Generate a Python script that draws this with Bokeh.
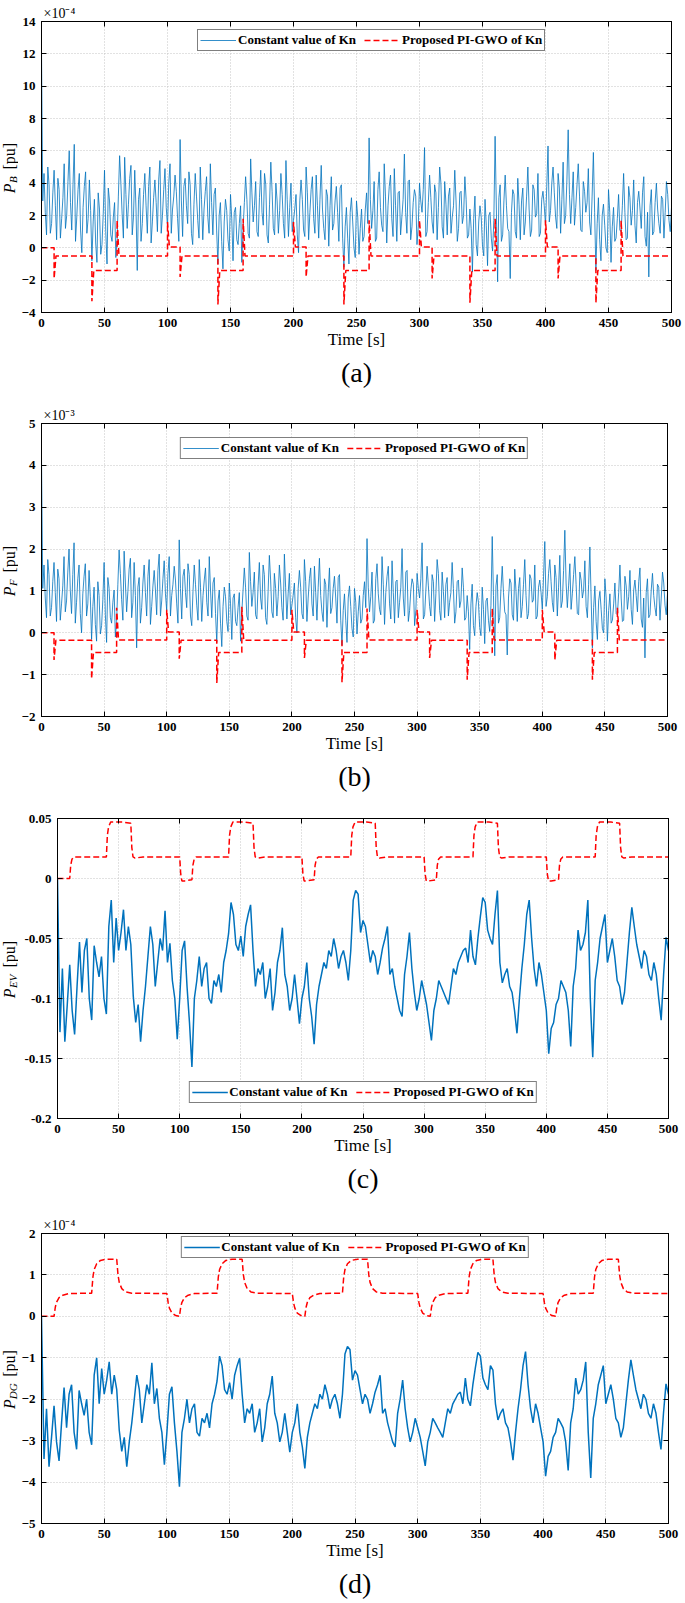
import math
from bokeh.plotting import figure
from bokeh.models import (Range1d, FixedTicker, LinearAxis, Legend, LegendItem,
                          Title, CustomJSTickFormatter)
from bokeh.core.properties import value
from bokeh.layouts import column, row
from bokeh.embed import file_html
from bokeh.resources import INLINE

# ---------------- data ----------------
x_ticks = [0, 50, 100, 150, 200, 250, 300, 350, 400, 450, 500]
t_1s = list(range(0, 501))                  # 1-s samples, panels (a) and (b)
t_2s = list(range(0, 501, 2))               # 2-s samples, panels (c) and (d)

# (a) P_B, constant Kn [x1e-4 pu] -- values at even seconds 0..500
pb_const_even = [
    12.2, 4.6, 0.8, 3.9, 1.5, 4.8, 0.5, 3.6, 1.8, 5.2,
    2.0, 6.0, 1.1, 6.4, 1.9, 4.6, -0.3, 3.8, 0.9, 4.2,
    -0.8, 3.0, -0.9, 2.4, 0.2, 4.8, -1.0, 2.9, 0.4, 2.8,
    0.5, 5.7, 2.1, 5.6, 1.2, 4.3, 0.8, 4.8, -1.4, 3.7,
    1.5, 4.6, 0.9, 5.0, 1.6, 4.2, 1.0, 5.4, 2.0, 4.9,
    1.3, 5.2, 2.4, 4.5, 1.8, 6.7, 0.7, 4.3, 1.5, 3.9,
    0.2, 4.6, 1.7, 5.0, 0.5, 3.5, 1.9, 5.2, 0.8, 3.7,
    -1.0, 2.8, -1.3, 3.0, 0.5, 3.3, -0.8, 2.5, 0.2, 2.6,
    1.2, 4.4, 0.9, 5.5, 1.6, 4.1, 0.7, 4.8, 1.4, 3.9,
    0.3, 5.3, 1.2, 4.0, 0.9, 4.6, 1.5, 5.4, 0.7, 4.0,
    1.7, 3.3, -0.3, 4.2, 1.1, 5.0, 0.5, 3.6, 1.8, 4.5,
    0.6, 5.1, 1.2, 3.6, 0.1, 4.4, 1.5, 3.8, 0.4, 3.9,
    -1.2, 2.5, -1.0, 3.1, 0.0, 2.9, -0.4, 2.4, 0.7, 3.4,
    6.8, 1.2, 4.1, 0.6, 4.7, 1.4, 5.2, 0.3, 3.8, 1.8,
    4.9, 0.4, 3.5, 1.9, 5.8, 0.9, 4.2, 1.3, 3.6, 0.2,
    4.0, 2.2, 6.2, 1.0, 4.5, 1.6, 3.9, 0.5, 5.0, 1.3,
    4.1, 0.8, 3.7, 1.9, 4.8, 0.4, 3.4, 1.5, 4.4, 0.6,
    2.4, -1.5, 3.2, -0.5, 2.6, 0.1, 3.0, -1.1, 2.2, -0.2,
    6.9, -2.1, 3.9, 0.8, 4.5, 1.2, -1.9, 3.6, 1.0, 4.3,
    0.5, 3.7, 1.6, 5.0, 0.7, 3.9, 1.9, 4.6, 0.9, 3.5,
    1.4, 6.3, 2.3, 5.0, 1.9, 4.6, 0.9, 5.3, 2.0, 7.3,
    1.5, 4.7, 2.5, 5.2, 1.1, 4.1, 2.2, 4.9, 0.8, 5.9,
    -1.4, 3.1, -0.8, 2.7, 0.0, 3.6, -0.9, 2.5, 0.6, 3.3,
    1.0, 4.6, 0.5, 3.8, 1.4, 4.2, 0.3, 3.5, 1.2, 4.4,
    0.1, -1.8, 3.6, 1.0, 4.0, 1.5, 3.2, 0.6, 4.1, 1.7,
    2.5]
# (a) values at odd seconds 1..499
pb_const_odd = [
    2.9, 2.2, 5.0, 0.9, 3.4, 2.6, 4.3, 0.6, 3.1, 1.2,
    4.1, 2.8, 3.9, 0.4, 3.6, 1.1, 2.5, 4.7, 1.8, 2.3,
    1.6, 0.3, 3.4, -0.4, 2.1, 1.0, 3.7, 0.8, 1.9, -0.6,
    3.2, 4.0, 0.6, 3.3, 2.7, 5.1, 1.9, 2.4, 3.0, 0.4,
    3.3, 2.6, 3.8, 0.3, 3.1, 2.8, 4.2, 0.9, 3.6, 2.5,
    4.0, 0.9, 3.2, 3.5, 0.4, 2.9, 3.8, 2.6, 4.7, 0.9,
    2.7, 3.2, 0.6, 3.0, 2.4, 4.4, 0.9, 2.8, 3.3, 1.1,
    2.0, 0.4, 1.6, 2.3, -0.2, 1.8, 2.2, 0.5, 1.5, -0.9,
    2.8, 3.0, 0.6, 3.4, 2.6, 1.0, 3.1, 2.2, 4.6, 0.8,
    2.7, 3.5, 0.8, 2.9, 2.3, 3.3, 0.6, 3.0, 2.5, 1.0,
    2.4, 0.8, 2.9, 3.0, 0.7, 3.4, 2.2, 4.4, 0.9, 2.6,
    3.0, 2.4, 0.5, 3.2, 2.6, 1.1, 2.9, 2.2, 3.7, 0.6,
    1.3, 0.6, 2.2, 1.6, -0.6, 1.9, 1.2, 0.4, 2.4, 1.5,
    3.0, 2.3, 0.4, 3.6, 2.5, 1.0, 3.2, 2.6, 4.5, 0.7,
    2.6, 3.4, 0.8, 3.0, 2.2, 4.1, 0.5, 2.8, 3.2, 1.3,
    2.9, 3.6, 0.7, 2.8, 3.1, 0.9, 3.4, 2.5, 4.0, 0.6,
    2.7, 3.2, 0.9, 2.6, 2.9, 1.2, 3.5, 2.0, 3.0, 0.8,
    1.2, 1.8, 0.2, 1.6, 1.9, -0.5, 1.4, 2.0, 0.6, 1.7,
    2.4, 3.1, 0.4, 2.9, 2.6, 1.0, 2.2, 3.3, 0.6, 2.7,
    2.9, 0.8, 3.2, 2.4, 1.1, 3.6, 2.1, 0.7, 3.0, 2.6,
    3.8, 1.6, 4.0, 3.4, 1.2, 3.7, 3.0, 1.5, 4.2, 3.3,
    3.1, 1.4, 3.9, 3.2, 1.0, 3.5, 2.8, 1.6, 3.2, 2.2,
    1.5, 0.5, 2.0, 1.4, -0.3, 2.2, 1.3, 0.4, 1.8, 1.1,
    2.6, 2.2, 0.6, 3.1, 2.3, 1.4, 2.8, 2.4, 3.4, 0.7,
    2.2, 2.6, 0.8, 2.8, 2.4, 0.9, 3.0, 2.2, 3.3, 1.0]

# (b) P_F, constant Kn [x1e-3 pu] -- even seconds 0..500
pf_const_even = [
    4.2, 1.62, 0.36, 1.39, 0.6, 1.68, 0.27, 1.29, 0.69, 1.82,
    0.76, 2.0, 0.46, 2.15, 0.73, 1.62, 0.0, 1.35, 0.4, 1.49,
    -0.16, 1.09, -0.2, 0.89, 0.17, 1.68, -0.23, 1.06, 0.23, 1.02,
    0.27, 1.98, 0.79, 1.95, 0.5, 1.52, 0.36, 1.68, -0.36, 1.32,
    0.6, 1.62, 0.4, 1.75, 0.63, 1.49, 0.43, 1.88, 0.76, 1.72,
    0.53, 1.82, 0.89, 1.59, 0.69, 2.22, 0.33, 1.52, 0.6, 1.39,
    0.17, 1.62, 0.66, 1.75, 0.27, 1.26, 0.73, 1.82, 0.36, 1.32,
    -0.23, 1.02, -0.33, 1.09, 0.27, 1.19, -0.16, 0.93, 0.17, 0.96,
    0.5, 1.55, 0.4, 1.92, 0.63, 1.45, 0.33, 1.68, 0.56, 1.39,
    0.2, 1.85, 0.5, 1.42, 0.4, 1.62, 0.6, 1.88, 0.33, 1.42,
    0.66, 1.19, 0.0, 1.49, 0.46, 1.75, 0.27, 1.29, 0.69, 1.59,
    0.3, 1.78, 0.5, 1.29, 0.13, 1.55, 0.6, 1.35, 0.23, 1.39,
    -0.3, 0.93, -0.23, 1.12, 0.1, 1.06, -0.03, 0.89, 0.33, 1.22,
    2.25, 0.5, 1.45, 0.3, 1.65, 0.56, 1.82, 0.2, 1.35, 0.69,
    1.72, 0.23, 1.26, 0.73, 2.01, 0.4, 1.49, 0.53, 1.29, 0.17,
    1.42, 0.83, 2.15, 0.43, 1.59, 0.63, 1.39, 0.27, 1.75, 0.53,
    1.45, 0.36, 1.32, 0.73, 1.68, 0.23, 1.22, 0.6, 1.55, 0.3,
    0.89, -0.4, 1.16, -0.07, 0.96, 0.13, 1.09, -0.26, 0.83, 0.03,
    2.3, -0.55, 1.39, 0.36, 1.59, 0.5, -0.53, 1.29, 0.43, 1.52,
    0.27, 1.32, 0.63, 1.75, 0.33, 1.39, 0.73, 1.62, 0.4, 1.26,
    0.56, 2.18, 0.86, 1.75, 0.73, 1.62, 0.4, 1.85, 0.76, 2.45,
    0.6, 1.65, 0.93, 1.82, 0.46, 1.45, 0.83, 1.72, 0.36, 2.05,
    -0.36, 1.12, -0.16, 0.99, 0.1, 1.29, -0.2, 0.93, 0.3, 1.19,
    0.43, 1.62, 0.27, 1.35, 0.56, 1.49, 0.2, 1.26, 0.5, 1.55,
    0.13, -0.6, 1.29, 0.43, 1.42, 0.6, 1.16, 0.3, 1.45, 0.66,
    0.93]
# (b) odd seconds 1..499
pf_const_odd = [
    1.06, 0.83, 1.75, 0.4, 1.22, 0.96, 1.52, 0.3, 1.12, 0.5,
    1.45, 1.02, 1.39, 0.23, 1.29, 0.46, 0.93, 1.65, 0.69, 0.86,
    0.63, 0.2, 1.22, -0.03, 0.79, 0.43, 1.32, 0.36, 0.73, -0.1,
    1.16, 1.42, 0.3, 1.19, 0.99, 1.78, 0.73, 0.89, 1.09, 0.23,
    1.19, 0.96, 1.35, 0.2, 1.12, 1.02, 1.49, 0.4, 1.29, 0.93,
    1.42, 0.4, 1.16, 1.26, 0.23, 1.06, 1.35, 0.96, 1.65, 0.4,
    0.99, 1.16, 0.3, 1.09, 0.89, 1.55, 0.4, 1.02, 1.19, 0.46,
    0.76, 0.23, 0.63, 0.86, 0.03, 0.69, 0.83, 0.27, 0.6, -0.2,
    1.02, 1.09, 0.3, 1.22, 0.96, 0.43, 1.12, 0.83, 1.62, 0.36,
    0.99, 1.26, 0.36, 1.06, 0.86, 1.19, 0.3, 1.09, 0.93, 0.43,
    0.89, 0.36, 1.06, 1.09, 0.33, 1.22, 0.83, 1.55, 0.4, 0.96,
    1.09, 0.89, 0.27, 1.16, 0.96, 0.46, 1.06, 0.83, 1.32, 0.3,
    0.53, 0.3, 0.83, 0.63, -0.1, 0.73, 0.5, 0.23, 0.89, 0.6,
    1.09, 0.86, 0.23, 1.29, 0.93, 0.43, 1.16, 0.96, 1.59, 0.33,
    0.96, 1.22, 0.36, 1.09, 0.83, 1.45, 0.27, 1.02, 1.16, 0.53,
    1.06, 1.29, 0.33, 1.02, 1.12, 0.4, 1.22, 0.93, 1.42, 0.3,
    0.99, 1.16, 0.4, 0.96, 1.06, 0.5, 1.26, 0.76, 1.09, 0.36,
    0.5, 0.69, 0.17, 0.63, 0.73, -0.07, 0.56, 0.76, 0.3, 0.66,
    0.89, 1.12, 0.23, 1.06, 0.96, 0.43, 0.83, 1.19, 0.3, 0.99,
    1.06, 0.36, 1.16, 0.89, 0.46, 1.29, 0.79, 0.33, 1.09, 0.96,
    1.35, 0.63, 1.42, 1.22, 0.5, 1.32, 1.09, 0.6, 1.49, 1.19,
    1.12, 0.56, 1.39, 1.16, 0.43, 1.26, 1.02, 0.63, 1.16, 0.83,
    0.6, 0.27, 0.76, 0.56, 0.0, 0.83, 0.53, 0.23, 0.69, 0.46,
    0.96, 0.83, 0.3, 1.12, 0.86, 0.56, 1.02, 0.89, 1.22, 0.33,
    0.83, 0.96, 0.36, 1.02, 0.89, 0.4, 1.09, 0.83, 1.19, 0.43]

# (c) P_EV, constant Kn [pu] -- every 2 s
pev_const = [
    0.0, -0.128, -0.075, -0.136, -0.105, -0.072, -0.11, -0.13, -0.09, -0.053,
    -0.095, -0.06, -0.05, -0.1, -0.118, -0.056, -0.07, -0.082, -0.065, -0.1,
    -0.113, -0.04, -0.018, -0.07, -0.033, -0.06, -0.045, -0.026, -0.06, -0.04,
    -0.055, -0.098, -0.12, -0.105, -0.136, -0.11, -0.09, -0.065, -0.04, -0.055,
    -0.09, -0.07, -0.05, -0.06, -0.027, -0.07, -0.054, -0.085, -0.1, -0.134,
    -0.1, -0.06, -0.052, -0.09, -0.12, -0.157, -0.1, -0.085, -0.065, -0.09,
    -0.075, -0.07, -0.1, -0.104, -0.085, -0.09, -0.08, -0.095, -0.07, -0.06,
    -0.046, -0.02, -0.03, -0.055, -0.06, -0.048, -0.065, -0.04, -0.03, -0.022,
    -0.06, -0.09, -0.075, -0.08, -0.07, -0.1, -0.09, -0.075, -0.11, -0.095,
    -0.07, -0.06, -0.041, -0.08, -0.09, -0.11, -0.1, -0.08, -0.1, -0.121,
    -0.1, -0.09, -0.07, -0.1, -0.115, -0.138, -0.105, -0.09, -0.08, -0.07,
    -0.075, -0.06, -0.065, -0.05, -0.06, -0.075, -0.065, -0.06, -0.07, -0.085,
    -0.06, -0.018, -0.01, -0.013, -0.045, -0.035, -0.04, -0.055, -0.07, -0.06,
    -0.065, -0.08, -0.07, -0.058, -0.05, -0.04, -0.08, -0.075, -0.09, -0.1,
    -0.11, -0.115, -0.08, -0.065, -0.045, -0.075, -0.095, -0.11, -0.1, -0.085,
    -0.095, -0.105, -0.12, -0.135, -0.11, -0.1, -0.085, -0.09, -0.095, -0.1,
    -0.105, -0.09, -0.075, -0.08, -0.07, -0.065, -0.06, -0.058, -0.07, -0.043,
    -0.065, -0.072, -0.05, -0.032, -0.016, -0.02, -0.043, -0.05, -0.055, -0.03,
    -0.01, -0.07, -0.087, -0.08, -0.075, -0.09, -0.095, -0.11, -0.129, -0.1,
    -0.075, -0.055, -0.03, -0.018, -0.05, -0.075, -0.09, -0.07, -0.08, -0.095,
    -0.11, -0.146, -0.125, -0.12, -0.105, -0.1, -0.085, -0.09, -0.095, -0.11,
    -0.14, -0.09, -0.075, -0.043, -0.06, -0.055, -0.045, -0.018, -0.1, -0.149,
    -0.085, -0.07, -0.05, -0.04, -0.03, -0.07, -0.06, -0.05, -0.065, -0.085,
    -0.09, -0.105, -0.095, -0.07, -0.045, -0.024, -0.04, -0.055, -0.065, -0.075,
    -0.06, -0.065, -0.08, -0.085, -0.07, -0.08, -0.1, -0.118, -0.08, -0.049,
    -0.06]

# (d) P_DG, constant Kn [x1e-4 pu] -- every 2 s
pdg_const = [
    0.0, -3.44, -2.23, -3.63, -2.92, -2.16, -3.03, -3.49, -2.57, -1.72,
    -2.69, -1.88, -1.65, -2.8, -3.21, -1.79, -2.11, -2.39, -2.0, -2.8,
    -3.1, -1.42, -1.0, -2.11, -1.26, -1.88, -1.54, -1.1, -1.88, -1.42,
    -1.77, -2.75, -3.26, -2.92, -3.63, -3.03, -2.57, -2.0, -1.42, -1.77,
    -2.57, -2.11, -1.65, -1.88, -1.12, -2.11, -1.74, -2.46, -2.8, -3.58,
    -2.8, -1.88, -1.7, -2.57, -3.26, -4.11, -2.8, -2.46, -2.0, -2.57,
    -2.23, -2.11, -2.8, -2.89, -2.46, -2.57, -2.34, -2.69, -2.11, -1.88,
    -1.56, -0.96, -1.19, -1.77, -1.88, -1.6, -2.0, -1.42, -1.19, -1.01,
    -1.88, -2.57, -2.23, -2.34, -2.11, -2.8, -2.57, -2.23, -3.03, -2.69,
    -2.11, -1.88, -1.44, -2.34, -2.57, -3.03, -2.8, -2.34, -2.8, -3.28,
    -2.8, -2.57, -2.11, -2.8, -3.15, -3.67, -2.92, -2.57, -2.34, -2.11,
    -2.23, -1.88, -2.0, -1.65, -1.88, -2.23, -2.0, -1.88, -2.11, -2.46,
    -1.88, -0.91, -0.73, -0.8, -1.54, -1.31, -1.42, -1.77, -2.11, -1.88,
    -2.0, -2.34, -2.11, -1.83, -1.65, -1.42, -2.34, -2.23, -2.57, -2.8,
    -3.03, -3.15, -2.34, -2.0, -1.54, -2.23, -2.69, -3.03, -2.8, -2.46,
    -2.69, -2.92, -3.26, -3.61, -3.03, -2.8, -2.46, -2.57, -2.69, -2.8,
    -2.92, -2.57, -2.23, -2.34, -2.11, -2.0, -1.88, -1.83, -2.11, -1.49,
    -2.0, -2.16, -1.65, -1.24, -0.87, -0.96, -1.49, -1.65, -1.77, -1.19,
    -1.3, -2.11, -2.5, -2.34, -2.23, -2.57, -2.69, -3.03, -3.47, -2.8,
    -2.23, -1.77, -1.19, -0.85, -1.65, -2.23, -2.57, -2.11, -2.34, -2.69,
    -3.03, -3.86, -3.38, -3.26, -2.92, -2.8, -2.46, -2.57, -2.69, -3.03,
    -3.72, -2.57, -2.23, -1.49, -1.88, -1.77, -1.54, -1.1, -2.8, -3.9,
    -2.46, -2.11, -1.65, -1.42, -1.19, -2.11, -1.88, -1.65, -2.0, -2.46,
    -2.57, -2.92, -2.69, -2.11, -1.54, -1.05, -1.42, -1.77, -2.0, -2.23,
    -1.88, -2.0, -2.34, -2.46, -2.11, -2.34, -2.8, -3.21, -2.34, -1.63,
    -1.88]

# PI-GWO responses of (a) and (b): load-switch times, transient spike and settled level
gwo_switch_t = [10, 40, 60, 100, 110, 140, 160, 200, 210, 240, 260, 300, 310, 340, 360, 400, 410, 440, 460]
pb_gwo_spike = [-1.9, -3.3, 1.7, 1.6, -1.8, -3.5, 1.8, 1.6, -1.8, -3.5, 1.7, 1.7, -1.9, -3.4, 1.8, 1.7, -1.9, -3.4, 1.7]
pb_gwo_level = [-0.5, -1.4, -0.5, 0.05, -0.5, -1.4, -0.5, 0.05, -0.5, -1.4, -0.5, 0.05, -0.5, -1.4, -0.5, 0.05, -0.5, -1.4, -0.5]
pf_gwo_spike = [-0.65, -1.1, 0.6, 0.55, -0.62, -1.2, 0.62, 0.55, -0.6, -1.18, 0.58, 0.55, -0.6, -1.12, 0.58, 0.55, -0.65, -1.12, 0.6]
pf_gwo_level = [-0.18, -0.47, -0.17, 0.02, -0.18, -0.47, -0.18, 0.02, -0.18, -0.47, -0.17, 0.02, -0.18, -0.47, -0.17, 0.02, -0.18, -0.47, -0.17]

# (c) P_EV, PI-GWO [pu]
pev_gwo_t = [0, 10, 10.8, 11.8, 13.5, 40, 40.8, 41.8, 43.5, 53, 60, 60.8, 61.8, 63.5, 70, 100, 100.8, 101.8, 104, 110,
             110.8, 111.8, 113.5, 140, 140.8, 141.8, 143.5, 153, 160, 160.8, 161.8, 163.5, 170, 200, 200.8, 201.8, 204, 210,
             210.8, 211.8, 213.5, 240, 240.8, 241.8, 243.5, 253, 260, 260.8, 261.8, 263.5, 270, 300, 300.8, 301.8, 304, 310,
             310.8, 311.8, 313.5, 340, 340.8, 341.8, 343.5, 353, 360, 360.8, 361.8, 363.5, 370, 400, 400.8, 401.8, 404, 410,
             410.8, 411.8, 413.5, 440, 440.8, 441.8, 443.5, 453, 460, 460.8, 461.8, 463.5, 470, 500]
pev_gwo = [0, 0, 0.011, 0.016, 0.018, 0.018, 0.036, 0.043, 0.047, 0.047, 0.046, 0.026, 0.018, 0.017, 0.018, 0.018, 0.004, -0.002, -0.002, -0.001,
           0.011, 0.016, 0.018, 0.018, 0.036, 0.043, 0.047, 0.047, 0.046, 0.026, 0.018, 0.017, 0.018, 0.018, 0.004, -0.002, -0.002, -0.001,
           0.011, 0.016, 0.018, 0.018, 0.036, 0.043, 0.047, 0.047, 0.046, 0.026, 0.018, 0.017, 0.018, 0.018, 0.004, -0.002, -0.002, -0.001,
           0.011, 0.016, 0.018, 0.018, 0.036, 0.043, 0.047, 0.047, 0.046, 0.026, 0.018, 0.017, 0.018, 0.018, 0.004, -0.002, -0.002, -0.001,
           0.011, 0.016, 0.018, 0.018, 0.036, 0.043, 0.047, 0.047, 0.046, 0.026, 0.018, 0.017, 0.018, 0.018]

# (d) P_DG, PI-GWO [x1e-4 pu]
pdg_gwo_t = [0, 10, 11, 12, 14, 17, 22, 40, 41, 42, 44, 47, 52, 60, 61, 62, 64, 67, 72, 100, 101, 102, 104, 107, 110,
             111, 112, 114, 117, 122, 140, 141, 142, 144, 147, 152, 160, 161, 162, 164, 167, 172, 200, 201, 202, 204, 207, 210,
             211, 212, 214, 217, 222, 240, 241, 242, 244, 247, 252, 260, 261, 262, 264, 267, 272, 300, 301, 302, 304, 307, 310,
             311, 312, 314, 317, 322, 340, 341, 342, 344, 347, 352, 360, 361, 362, 364, 367, 372, 400, 401, 402, 404, 407, 410,
             411, 412, 414, 417, 422, 440, 441, 442, 444, 447, 452, 460, 461, 462, 464, 467, 472, 500]
pdg_gwo = [0, 0, 0.22, 0.34, 0.45, 0.51, 0.55, 0.56, 0.95, 1.13, 1.27, 1.35, 1.38, 1.38, 1.0, 0.82, 0.67, 0.59, 0.56, 0.55, 0.33, 0.2, 0.08, 0.02, 0.0,
           0.22, 0.34, 0.45, 0.51, 0.55, 0.56, 0.95, 1.13, 1.27, 1.35, 1.38, 1.38, 1.0, 0.82, 0.67, 0.59, 0.56, 0.55, 0.33, 0.2, 0.08, 0.02, 0.0,
           0.22, 0.34, 0.45, 0.51, 0.55, 0.56, 0.95, 1.13, 1.27, 1.35, 1.38, 1.38, 1.0, 0.82, 0.67, 0.59, 0.56, 0.55, 0.33, 0.2, 0.08, 0.02, 0.0,
           0.22, 0.34, 0.45, 0.51, 0.55, 0.56, 0.95, 1.13, 1.27, 1.35, 1.38, 1.38, 1.0, 0.82, 0.67, 0.59, 0.56, 0.55, 0.33, 0.2, 0.08, 0.02, 0.0,
           0.22, 0.34, 0.45, 0.51, 0.55, 0.56, 0.95, 1.13, 1.27, 1.35, 1.38, 1.38, 1.0, 0.82, 0.67, 0.59, 0.56, 0.55]

legend_labels = ["Constant value of Kn", "Proposed PI-GWO of Kn"]

# ---------------- styling ----------------
FONT = "Liberation Serif"
BLUE = "#0072BD"
RED = "#FF0000"
W_TOTAL = 685
LW = 18          # width of the strip holding the rotated y-axis label


def interleave(even, odd):
    out = []
    for e, o in zip(even, odd):
        out += [e, o]
    out.append(even[-1])
    return out


def spike_path(sw_t, spikes, levels):
    xs, ys, prev = [0.0], [0.0], 0.0
    for t, s, l in zip(sw_t, spikes, levels):
        xs += [t, t, t + 1.5]
        ys += [prev, s, l]
        prev = l
    xs.append(500.0)
    ys.append(prev)
    return xs, ys


def ylabel_strip(height, top, bottom, y_range, sub, sub_w):
    y_lo, y_hi = y_range
    frame_h = height - top - bottom
    f = figure(frame_width=LW, frame_height=frame_h,
               x_range=Range1d(0, LW), y_range=Range1d(y_lo, y_hi),
               output_backend="svg", toolbar_location=None,
               x_axis_location=None, y_axis_location=None,
               min_border_left=0, min_border_right=0, min_border_top=top, min_border_bottom=bottom)
    f.outline_line_color = None
    f.background_fill_color = "white"
    f.border_fill_color = "white"
    f.grid.visible = False
    dpp = (y_hi - y_lo) / frame_h
    # lengths (px) of the pieces along the reading direction
    len_p, gap, len_pu = 10.0, 4.5, 31.0
    total = len_p + sub_w + gap + len_pu
    y_start = (y_lo + y_hi) / 2 - total / 2 * dpp
    y_p = y_start + (len_p / 2) * dpp
    y_s = y_start + (len_p + sub_w / 2) * dpp
    y_u = y_start + (len_p + sub_w + gap + len_pu / 2) * dpp
    common = dict(angle=math.pi / 2, text_align="center", text_baseline="middle",
                  text_font=value(FONT), text_color="black")
    f.text(x=[8.5], y=[y_p], text=["P"], text_font_size="16px", text_font_style="italic", **common)
    f.text(x=[12], y=[y_s], text=[sub], text_font_size="11px", text_font_style="italic", **common)
    f.text(x=[8.5], y=[y_u], text=["[pu]"], text_font_size="16px",
           text_font_style="normal", **common)
    return f


def make_panel(height, borders, y_range, y_ticks, blue_t, blue_y, blue_w, red_x, red_y,
               leg_loc, leg_margin, mult, sub, sub_w, caption, y_fmt=None):
    left, right, top, bottom = borders
    p = figure(width=W_TOTAL - LW, height=height, x_range=Range1d(0, 500),
               y_range=Range1d(*y_range),
               output_backend="svg", toolbar_location=None,
               x_axis_location="below", y_axis_location="left",
               min_border_left=left - LW, min_border_right=right,
               min_border_top=top, min_border_bottom=bottom)
    p.background_fill_color = "white"
    p.border_fill_color = "white"
    p.outline_line_color = "black"
    p.outline_line_width = 1

    # multiplier (x10^n) above the top-left corner
    p.title.text = mult
    p.title.align = "left"
    p.title.offset = 2
    p.title.standoff = 1
    p.title.text_font = FONT
    p.title.text_font_size = "14px"
    p.title.text_font_style = "normal"
    p.title.text_color = "black"

    xt = FixedTicker(ticks=x_ticks)
    yt = FixedTicker(ticks=y_ticks)
    xax = p.below[0]
    yax = p.left[0]
    xax.ticker = xt
    yax.ticker = yt
    if y_fmt is not None:
        yax.formatter = y_fmt
    tax = LinearAxis(ticker=xt)
    rax = LinearAxis(ticker=yt)
    p.add_layout(tax, "above")
    p.add_layout(rax, "right")

    for ax in (xax, yax, tax, rax):
        ax.major_tick_in = 5
        ax.major_tick_out = 0
        ax.minor_tick_line_color = None
        ax.axis_line_color = "black"
        ax.major_tick_line_color = "black"
        ax.major_label_text_font = FONT
        ax.major_label_text_font_style = "bold"
        ax.major_label_text_font_size = "13px"
        ax.major_label_text_color = "black"
    for ax in (tax, rax):
        ax.major_label_text_font_size = "1px"
        ax.major_label_text_color = None
        ax.major_label_standoff = 0
    xax.major_label_standoff = 6
    yax.major_label_standoff = 6
    xax.axis_label = "Time [s]"
    xax.axis_label_text_font = FONT
    xax.axis_label_text_font_style = "normal"
    xax.axis_label_text_font_size = "17px"
    xax.axis_label_text_color = "black"
    xax.axis_label_standoff = 0

    for g in (p.xgrid[0], p.ygrid[0]):
        g.grid_line_color = "#c4c4c4"
        g.grid_line_dash = "1 2"
        g.grid_line_width = 1
    p.xgrid[0].ticker = xt
    p.ygrid[0].ticker = yt

    rb = p.line(blue_t, blue_y, line_color=BLUE, line_width=blue_w)
    rr = p.line(red_x, red_y, line_color=RED, line_width=1.5, line_dash="6 3")

    leg = Legend(items=[LegendItem(label=legend_labels[0], renderers=[rb]),
                        LegendItem(label=legend_labels[1], renderers=[rr])],
                 orientation="horizontal", location=leg_loc, margin=leg_margin,
                 padding=2, spacing=8, glyph_width=36, glyph_height=14, label_height=14,
                 label_standoff=2, label_text_font=FONT, label_text_font_style="bold",
                 label_text_font_size="13px", label_text_color="black",
                 border_line_color="black", border_line_width=1,
                 background_fill_color="white", background_fill_alpha=1.0)
    p.add_layout(leg)

    p.add_layout(Title(text=caption, align="center", text_font=FONT, text_font_size="28px",
                       text_font_style="normal", text_color="black", standoff=7), "below")

    strip = ylabel_strip(height, top, bottom, y_range, sub, sub_w)
    return row(strip, p)


pb_series = interleave(pb_const_even, pb_const_odd)
pf_series = interleave(pf_const_even, pf_const_odd)
pb_x, pb_y = spike_path(gwo_switch_t, pb_gwo_spike, pb_gwo_level)
pf_x, pf_y = spike_path(gwo_switch_t, pf_gwo_spike, pf_gwo_level)

c_fmt = CustomJSTickFormatter(code="return (Math.round(tick*100)/100).toString();")

# panel (a): legend box sits a little right of centre in the reference
r1 = make_panel(398, (41, 14, 21, 86), (-4, 14), [-4, -2, 0, 2, 4, 6, 8, 10, 12, 14],
                t_1s, pb_series, 0.8, pb_x, pb_y, (156, 261), 0,
                "\u00d710\u207b\u2074", "B", 7, "(a)")
r2 = make_panel(402, (41, 18, 25, 84), (-2, 5), [-2, -1, 0, 1, 2, 3, 4, 5],
                t_1s, pf_series, 0.8, pf_x, pf_y, "top_center", 14,
                "\u00d710\u207b\u00b3", "F", 7, "(b)")
r3 = make_panel(405, (57, 17, 18, 87), (-0.2, 0.05), [-0.2, -0.15, -0.1, -0.05, 0, 0.05],
                t_2s, pev_const, 1.5, pev_gwo_t, pev_gwo, "bottom_center", 15,
                "", "EV", 14, "(c)", y_fmt=c_fmt)
r4 = make_panel(398, (40, 17, 28, 80), (-5, 2), [-5, -4, -3, -2, -1, 0, 1, 2],
                t_2s, pdg_const, 1.5, pdg_gwo_t, pdg_gwo, "top_center", 3,
                "\u00d710\u207b\u2074", "DG", 15.5, "(d)")

layout = column(r1, r2, r3, r4)
open("out.html", "w").write(file_html(layout, INLINE))
